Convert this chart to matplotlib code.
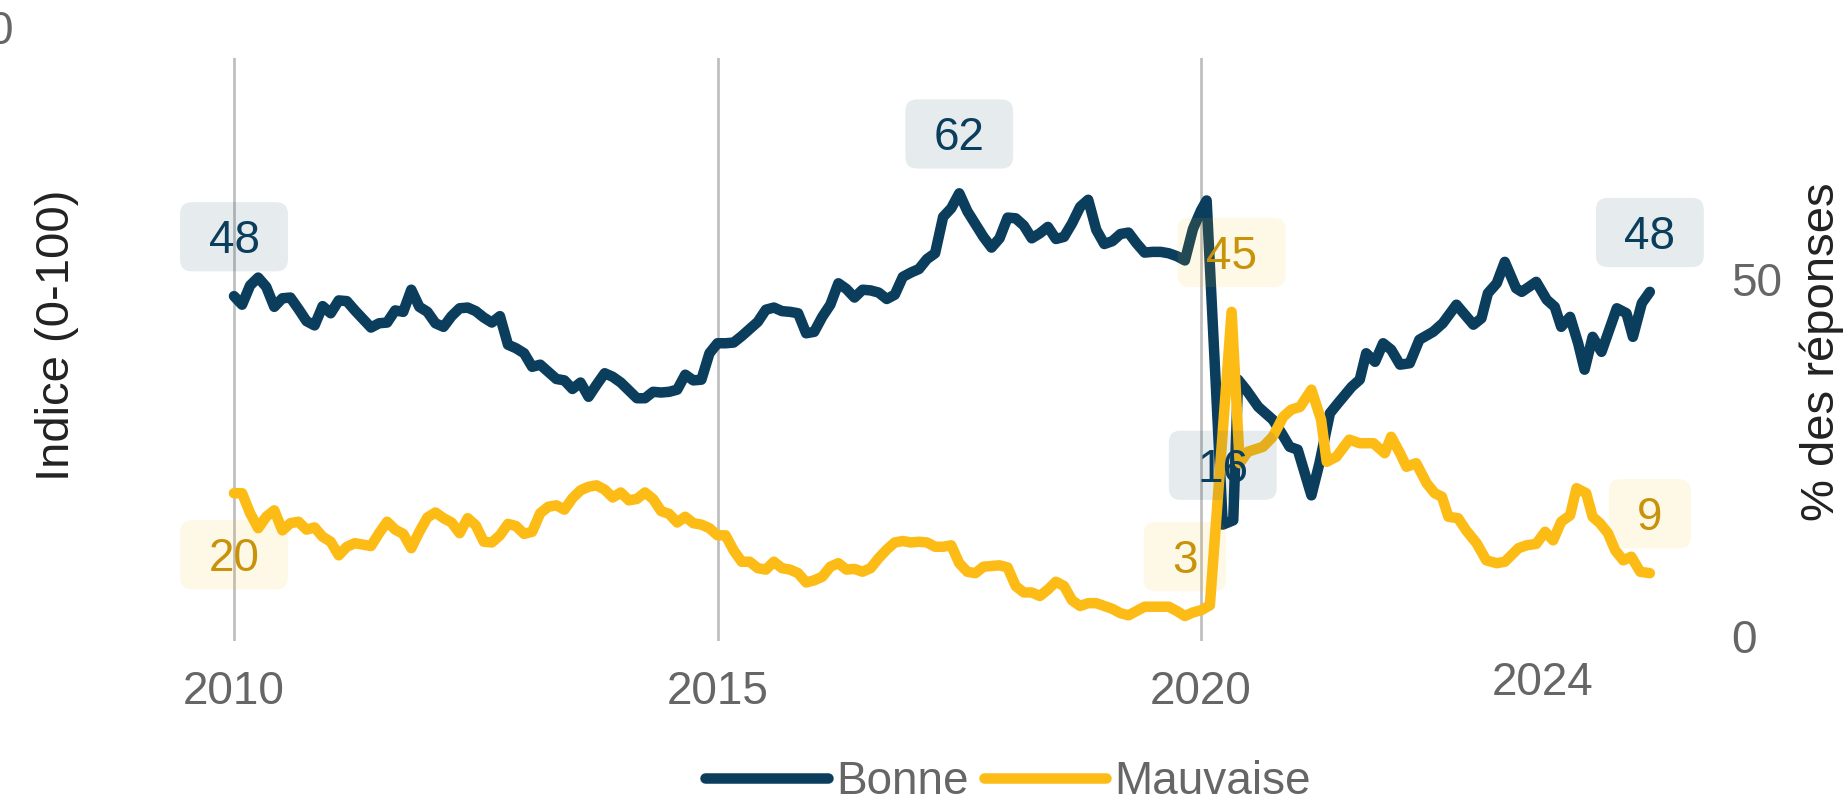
import matplotlib
matplotlib.use("Agg")
import matplotlib.pyplot as plt
from matplotlib.patches import BoxStyle
from matplotlib.lines import Line2D
import numpy as np

plt.rcParams['font.family'] = ['Liberation Sans', 'DejaVu Sans']

# ---------------- data ----------------
# monthly values, Jan 2010 -> Jan 2020
bonne_mensuel = [
    47.6, 46.4, 49.1, 50.2, 48.9, 46.1, 47.3, 47.4, 45.8, 44.1, 43.5, 46.2,
    45.2, 47.0, 46.9, 45.6, 44.4, 43.2, 43.8, 43.9, 45.6, 45.4, 48.5, 46.1,
    45.4, 43.8, 43.3, 44.8, 45.9, 46.0, 45.5, 44.6, 43.9, 44.8, 40.8, 40.3,
    39.6, 37.7, 38.0, 37.0, 36.0, 35.8, 34.6, 35.5, 33.5, 35.2, 36.8, 36.3,
    35.5, 34.4, 33.3, 33.3, 34.2, 34.1, 34.2, 34.5, 36.6, 35.8, 35.9, 39.6,
    41.0, 41.0, 41.1, 42.0, 43.0, 44.0, 45.7, 46.0, 45.5, 45.4, 45.2, 42.4,
    42.6, 44.7, 46.4, 49.4, 48.6, 47.4, 48.5, 48.4, 48.1, 47.2, 47.8, 50.3,
    50.9, 51.4, 52.8, 53.6, 58.7, 59.9, 62.0, 59.5, 57.7, 55.9, 54.4, 55.7,
    58.6, 58.5, 57.5, 55.7, 56.4, 57.3, 55.6, 55.9, 57.8, 60.1, 61.1, 56.9,
    54.9, 55.3, 56.3, 56.5, 55.0, 53.7, 53.8, 53.8, 53.6, 53.2, 52.6, 57.0,
    59.6,
]
mauvaise_mensuel = [
    20.0, 20.0, 17.2, 15.1, 16.7, 17.6, 14.8, 15.8, 16.0, 14.9, 15.2, 13.9,
    13.2, 11.3, 12.5, 13.0, 12.8, 12.6, 14.4, 16.0, 14.9, 14.3, 12.3, 14.6,
    16.6, 17.3, 16.5, 15.9, 14.4, 16.5, 15.5, 13.2, 13.1, 14.1, 15.7, 15.4,
    14.3, 14.6, 17.2, 18.1, 18.3, 17.7, 19.3, 20.4, 20.9, 21.1, 20.5, 19.4,
    20.1, 19.0, 19.2, 20.1, 19.2, 17.5, 17.1, 15.9, 16.7, 15.8, 15.6, 15.1,
    14.1, 14.1, 12.0, 10.4, 10.4, 9.5, 9.3, 10.4, 9.5, 9.3, 8.8, 7.5,
    7.8, 8.3, 9.7, 10.2, 9.3, 9.4, 9.0, 9.5, 10.9, 12.1, 13.1, 13.3,
    13.1, 13.2, 13.1, 12.5, 12.5, 12.7, 10.2, 9.0, 8.8, 9.7, 9.8, 9.9,
    9.6, 7.0, 6.1, 6.1, 5.6, 6.5, 7.6, 7.0, 5.0, 4.2, 4.6, 4.6,
    4.2, 3.8, 3.2, 2.9, 3.5, 4.1, 4.1, 4.1, 4.1, 3.5, 2.8, 3.3,
    3.6,
]
# after Jan 2020 : irregular survey dates (months since Jan 2010)
bonne_mois_post = [120.7, 122.7, 124.0, 124.6, 125.6, 127.1, 128.9, 130.0, 131.0, 132.0,
                   133.7, 134.7, 136.0, 137.0, 138.7, 139.7, 140.5, 141.6, 142.6, 143.6,
                   144.7, 145.9, 147.1, 148.8, 150.0, 151.7, 153.8, 154.8, 155.6, 156.7,
                   157.7, 159.1, 159.8, 161.6, 162.9, 163.9, 164.7, 165.8, 166.8, 167.6,
                   168.6, 169.7, 171.6, 172.8, 173.6, 174.7, 175.7]
bonne_post = [61.0, 15.6, 16.2, 35.9, 34.5, 32.1, 30.3, 28.4, 26.5, 26.1,
              19.7, 24.2, 31.2, 32.6, 34.9, 35.9, 39.6, 38.4, 41.0, 40.1,
              38.0, 38.2, 41.5, 42.6, 43.8, 46.4, 43.6, 44.5, 48.0, 49.4,
              52.4, 48.7, 48.2, 49.6, 47.1, 46.1, 43.3, 44.7, 41.0, 37.3,
              41.9, 39.8, 45.9, 45.2, 41.9, 46.6, 48.2]
mauvaise_mois_post = [121.1, 123.8, 124.8, 125.8, 127.7, 128.9, 130.2, 131.2, 132.3, 133.7,
                      134.9, 135.6, 136.8, 138.4, 139.7, 141.4, 142.8, 143.6, 144.7, 145.5,
                      146.7, 148.0, 149.0, 149.9, 150.7, 151.9, 152.9, 154.2, 155.4, 156.7,
                      157.7, 159.4, 160.4, 161.6, 162.7, 163.7, 164.7, 165.8, 166.6, 167.8,
                      168.6, 169.5, 170.5, 171.4, 172.4, 173.4, 174.5, 175.7]
mauvaise_post = [4.3, 45.4, 24.2, 25.8, 26.5, 27.9, 30.7, 31.7, 32.1, 34.5,
                 30.3, 24.4, 25.1, 27.5, 27.0, 27.0, 25.6, 27.9, 25.6, 23.7,
                 24.2, 21.4, 20.0, 19.5, 16.7, 16.5, 14.8, 13.0, 10.6, 10.2,
                 10.4, 12.3, 12.7, 12.9, 14.6, 13.4, 16.0, 16.9, 20.7, 20.0,
                 16.7, 15.8, 14.4, 12.0, 10.6, 11.1, 9.0, 8.8]

series_noms = ["Bonne", "Mauvaise"]
annees_ticks = [2010, 2015, 2020]
tick_2024_pos = 2023.53
y_ticks = [0, 50]

NAVY = "#0b3d5c"
GOLD = "#fdbb16"
GOLD_TXT = "#c8930a"
GREY = "#666666"

def to_year(months):
    return 2010 + np.asarray(months, dtype=float) / 12.0

xb = np.concatenate([to_year(np.arange(len(bonne_mensuel))), to_year(bonne_mois_post)])
yb = np.array(bonne_mensuel + bonne_post)
xm = np.concatenate([to_year(np.arange(len(mauvaise_mensuel))), to_year(mauvaise_mois_post)])
ym = np.array(mauvaise_mensuel + mauvaise_post)

# ---------------- figure ----------------
W, H = 1844, 809
fig = plt.figure(figsize=(W / 100, H / 100), dpi=100)
ax = fig.add_axes([170 / W, 1 - 641 / H, (1712 - 170) / W, (641 - 58) / H])

px_per_year = 96.7
ax.set_xlim(2010 - 64 / px_per_year, 2010 + 1478 / px_per_year)
ax.set_ylim(-5 / 7.14, (636 - 58) / 7.14)

LW = 10.5 * 0.72
ax.plot(xb, yb, color=NAVY, lw=LW, solid_capstyle='round', solid_joinstyle='round', zorder=3)
ax.plot(xm, ym, color=GOLD, lw=LW, solid_capstyle='round', solid_joinstyle='round', zorder=4)

for s in ax.spines.values():
    s.set_visible(False)

ax.set_xticks(annees_ticks)
ax.set_xticklabels([str(a) for a in annees_ticks])
ax.set_xticks([tick_2024_pos], minor=True)
ax.set_xticklabels(["2024"], minor=True)
ax.tick_params(axis='x', which='major', length=0, pad=21, labelsize=33, labelcolor=GREY)
ax.tick_params(axis='x', which='minor', length=0, pad=14.5, labelsize=33, labelcolor=GREY)
ax.xaxis.grid(True, which='major', color='#bdbdbd', lw=1.9, zorder=0)
ax.set_axisbelow(True)

ax.yaxis.tick_right()
ax.set_yticks(y_ticks)
ax.set_yticklabels([str(v) for v in y_ticks])
ax.tick_params(axis='y', length=0, pad=13.5, labelsize=33, labelcolor=GREY)

# ---------------- value labels ----------------
_round = BoxStyle.Round(pad=0, rounding_size=0.26)

def boite(x0, y0, width, height, mutation_size):
    padx = 0.62 * mutation_size
    return _round(x0 - padx, y0 - 0.18 * mutation_size,
                  width + 2 * padx, height + 0.55 * mutation_size, mutation_size)

FS = 33
def etiquette(x, y, fc, tc, dy_px):
    ax.annotate(f"{round(y)}", xy=(x, y), xytext=(0, (dy_px - 17) * 0.72),
                textcoords='offset points', ha='center', va='baseline',
                fontsize=FS, color=tc, zorder=6,
                bbox=dict(boxstyle=boite, fc=fc, ec='none', alpha=0.1))

def labels_for(x, y, fc, tc, start_dy):
    i_max, i_min = int(np.argmax(y)), int(np.argmin(y))
    etiquette(x[0], y[0], fc, tc, start_dy)
    etiquette(x[i_max], y[i_max], fc, tc, 60)
    etiquette(x[i_min], y[i_min], fc, tc, 60)
    etiquette(x[-1], y[-1], fc, tc, 60)

labels_for(xb, yb, NAVY, NAVY, 60)
labels_for(xm, ym, GOLD, GOLD_TXT, -61)

# ---------------- axis titles and cut-off texts ----------------
fig.text(57 / W, 1 - 335 / H, "Indice (0-100)", rotation=90, ha='center', va='center',
         fontsize=34, color='#222222')
fig.text(1822 / W, 1 - 352 / H, "% des réponses", rotation=90, ha='center', va='center',
         fontsize=34, color='#222222')
fig.text(14 / W, 1 - 32 / H, "100", ha='right', va='center', fontsize=33, color=GREY)

# ---------------- legend ----------------
handles = [Line2D([0], [0], color=NAVY, lw=LW, solid_capstyle='round'),
           Line2D([0], [0], color=GOLD, lw=LW, solid_capstyle='round')]
fig.legend(handles, series_noms, loc='center', bbox_to_anchor=(1008 / W, 1 - 782 / H),
           ncol=2, frameon=False, fontsize=33, handlelength=2.68, handletextpad=0.17,
           columnspacing=0.33, borderpad=0, labelcolor=GREY)

fig.savefig("out.png", dpi=100)
